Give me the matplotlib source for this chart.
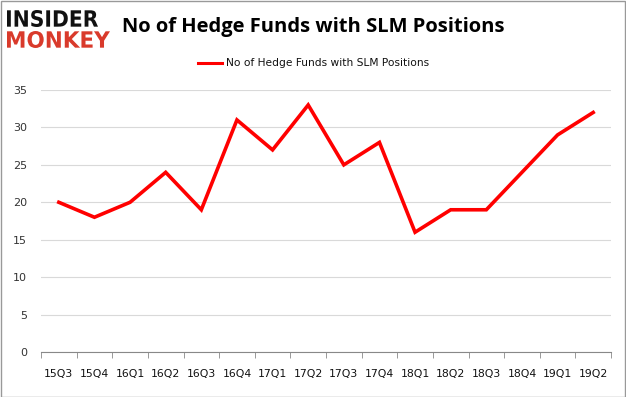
import matplotlib
matplotlib.use("Agg")
import matplotlib.pyplot as plt
from matplotlib.patches import Rectangle, PathPatch
from matplotlib.textpath import TextPath
from matplotlib.font_manager import FontProperties
from matplotlib.transforms import Affine2D

categories = ["15Q3", "15Q4", "16Q1", "16Q2", "16Q3", "16Q4", "17Q1", "17Q2",
              "17Q3", "17Q4", "18Q1", "18Q2", "18Q3", "18Q4", "19Q1", "19Q2"]
funds = [20, 18, 20, 24, 19, 31, 27, 33, 25, 28, 16, 19, 19, 24, 29, 32]
yticks = [0, 5, 10, 15, 20, 25, 30, 35]
series_name = "No of Hedge Funds with SLM Positions"

W, H = 626, 397
fig = plt.figure(figsize=(W / 100, H / 100), dpi=100)
fig.patch.set_facecolor("white")

ax = fig.add_axes([41 / W, 1 - 352 / H, (611 - 41) / W, (352 - 90) / H])
x = list(range(len(categories)))
ax.plot(x, funds, color="#ff0000", lw=2.6, solid_joinstyle="miter")
ax.set_xlim(-0.5, len(categories) - 0.5)
ax.set_ylim(0, 35)
ax.set_yticks(yticks)
ax.set_yticklabels([str(v) for v in yticks], fontsize=8, color="#333333")
ax.yaxis.grid(True, color="#d9d9d9", lw=0.8)
ax.set_axisbelow(True)
ax.tick_params(axis="y", length=0, pad=10)
ax.set_xticks(x)
ax.set_xticklabels(categories, fontsize=7.8, color="#111111")
ax.tick_params(axis="x", length=0, pad=12)
ax.set_xticks([i - 0.5 for i in range(len(categories) + 1)], minor=True)
ax.tick_params(axis="x", which="minor", length=4, color="#888888", direction="out")
for s in ["top", "right", "left"]:
    ax.spines[s].set_visible(False)
ax.spines["bottom"].set_color("#888888")

fig.text(122 / W, 1 - 27 / H, "No of Hedge Funds with SLM Positions",
         fontsize=14.5, fontweight="bold", family="Open Sans", va="center", ha="left")

fig.lines.append(plt.Line2D([198 / W, 222 / W], [1 - 63 / H, 1 - 63 / H],
                            color="#ff0000", lw=2.2, transform=fig.transFigure))
fig.text(226 / W, 1 - 63 / H, series_name, fontsize=7.7, va="center", ha="left", color="#111111")


def logo_word(word, x0, x1, ytop, ybot, color):
    fp = FontProperties(family="DejaVu Sans", weight="bold")
    tp = TextPath((0, 0), word, size=10, prop=fp)
    ext = tp.get_extents()
    sx = (x1 - x0) / ext.width
    sy = (ybot - ytop) / ext.height
    tr = (Affine2D().translate(-ext.x0, -ext.y0).scale(sx, sy)
          .translate(x0, H - ybot))
    path = tr.transform_path(tp)
    patch = PathPatch(path, facecolor=color, edgecolor="none",
                      transform=None)
    fig.patches.append(patch)


logo_word("INSIDER", 7, 98, 10, 27, "#111111")
logo_word("MONKEY", 7, 110, 31, 48, "#d93a2b")

fig.patches.append(Rectangle((0.5 / W, 0.5 / H), (W - 1.5) / W, (H - 1.5) / H,
                             transform=fig.transFigure, fill=False,
                             edgecolor="#999999", lw=1))

fig.savefig("out.png", dpi=100)
